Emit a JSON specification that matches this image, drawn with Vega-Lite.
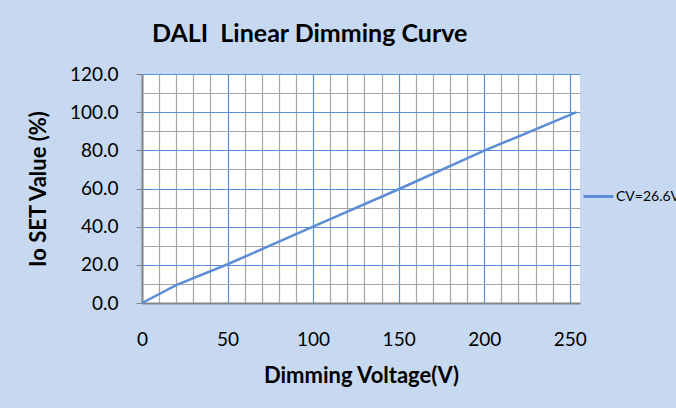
{
  "$schema": "https://vega.github.io/schema/vega-lite/v6.json",
  "width": 438,
  "height": 229,
  "autosize": {"type": "none"},
  "padding": {"left": 142, "top": 74, "right": 96, "bottom": 105},
  "background": "#c6d9f0",
  "title": {
    "text": "DALI\u00a0 Linear Dimming Curve",
    "anchor": "start",
    "frame": "group",
    "dx": 10,
    "offset": 18,
    "font": "Lato",
    "fontSize": 25,
    "fontWeight": "bold",
    "color": "#000000"
  },
  "config": {
    "view": {"fill": "#ffffff", "stroke": null},
    "axis": {"labelFont": "Lato", "titleFont": "Lato", "labelColor": "#000000", "titleColor": "#000000"}
  },
  "data": {
    "values": [
      {"voltage": 0, "io": 0, "series": "CV=26.6V"},
      {"voltage": 20, "io": 9.4, "series": "CV=26.6V"},
      {"voltage": 50, "io": 20.3, "series": "CV=26.6V"},
      {"voltage": 100, "io": 40.0, "series": "CV=26.6V"},
      {"voltage": 150, "io": 59.6, "series": "CV=26.6V"},
      {"voltage": 200, "io": 79.8, "series": "CV=26.6V"},
      {"voltage": 254, "io": 100.0, "series": "CV=26.6V"}
    ]
  },
  "resolve": {"axis": {"x": "independent", "y": "independent"}},
  "layer": [
    {
      "mark": {"type": "line", "strokeOpacity": 0},
      "encoding": {
        "x": {
          "field": "voltage", "type": "quantitative",
          "scale": {"domain": [0, 256], "nice": false, "zero": false},
          "axis": {
            "orient": "top", "values": [10,20,30,40,60,70,80,90,110,120,130,140,160,170,180,190,210,220,230,240],
            "labels": false, "ticks": false, "domain": false, "title": null,
            "grid": true, "gridColor": "#a6a6a6", "gridWidth": 1.2, "gridOpacity": 1
          }
        },
        "y": {
          "field": "io", "type": "quantitative",
          "scale": {"domain": [0, 120], "nice": false},
          "axis": {
            "orient": "right", "values": [10,30,50,70,90,110],
            "labels": false, "ticks": false, "domain": false, "title": null,
            "grid": true, "gridColor": "#a6a6a6", "gridWidth": 1.2, "gridOpacity": 1
          }
        }
      }
    },
    {
      "mark": {"type": "line", "strokeWidth": 2.5},
      "encoding": {
        "x": {
          "field": "voltage", "type": "quantitative",
          "scale": {"domain": [0, 256], "nice": false, "zero": false},
          "axis": {
            "orient": "bottom", "values": [0,50,100,150,200,250],
            "title": "Dimming Voltage(V)", "titleFontSize": 22, "titleFontWeight": "bold", "titlePadding": 16,
            "labelFontSize": 19, "labelPadding": 27, "labelFlush": false, "ticks": false, "tickSize": 0,
            "domain": true, "domainColor": "#868686", "domainWidth": 2,
            "grid": true, "gridColor": "#5b8ed6", "gridWidth": 1.2, "gridOpacity": 1
          }
        },
        "y": {
          "field": "io", "type": "quantitative",
          "scale": {"domain": [0, 120], "nice": false},
          "axis": {
            "orient": "left", "values": [0,20,40,60,80,100,120], "format": ".1f",
            "title": "Io SET Value (%)", "titleFontSize": 22, "titleFontWeight": "bold", "titlePadding": 19,
            "labelFontSize": 19, "labelPadding": 18, "labelFlush": false, "ticks": true, "tickSize": 6, "tickColor": "#868686",
            "domain": true, "domainColor": "#868686", "domainWidth": 2,
            "grid": true, "gridColor": "#5b8ed6", "gridWidth": 1.2, "gridOpacity": 1
          }
        },
        "color": {
          "field": "series", "type": "nominal",
          "scale": {"range": ["#5b8ed6"]},
          "legend": {
            "orient": "none", "legendX": 440, "legendY": 106, "title": null,
            "symbolType": "stroke", "symbolSize": 900, "symbolStrokeWidth": 3,
            "labelFont": "Lato", "labelFontSize": 14, "labelColor": "#000000", "labelOffset": 1, "padding": 0
          }
        }
      }
    }
  ]
}
